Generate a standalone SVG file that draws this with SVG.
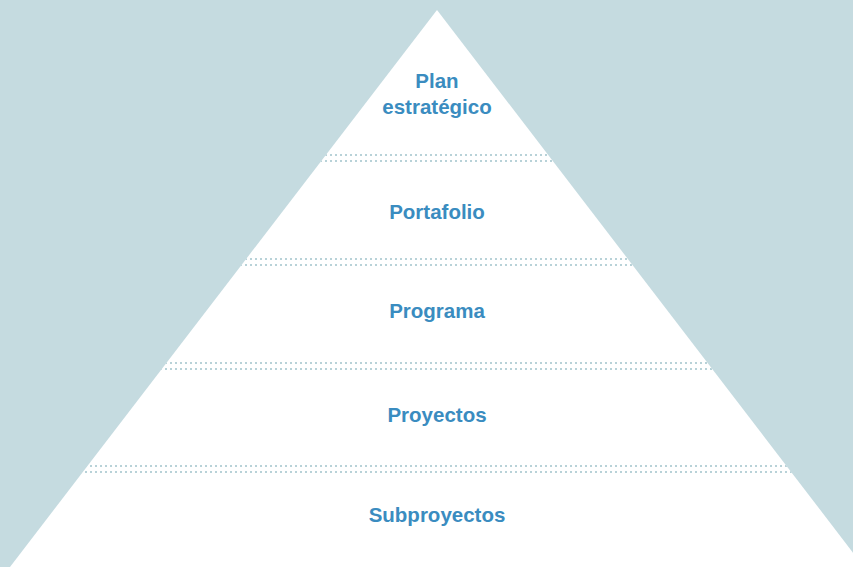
<svg xmlns="http://www.w3.org/2000/svg" width="853" height="567" viewBox="0 0 853 567">
<style>
.lbl{font-family:"Liberation Sans",Arial,sans-serif;font-weight:bold;font-size:20.5px;fill:#3a8cc0;text-anchor:middle}
.dot{stroke:#b8d2d8;stroke-width:2;stroke-dasharray:2 3;fill:none}
</style>
<defs>
<clipPath id="tri"><polygon points="437,10 10,567 864,567"/></clipPath>
</defs>
<rect width="853" height="567" fill="#c5dbe0"/>
<polygon points="437,10 10,567 864,567" fill="#ffffff"/>
<g id="connectors" clip-path="url(#tri)">
<path class="dot" d="M0,155H853M0,161H853"/>
<path class="dot" d="M0,259H853M0,265H853"/>
<path class="dot" d="M0,363H853M0,369H853"/>
<path class="dot" d="M0,466H853M0,472H853"/>
</g>
<g id="plan"><text class="lbl" x="437" y="88">Plan</text><text class="lbl" x="437" y="114">estratégico</text></g>
<g id="portafolio"><text class="lbl" x="437" y="219">Portafolio</text></g>
<g id="programa"><text class="lbl" x="437" y="318">Programa</text></g>
<g id="proyectos"><text class="lbl" x="437" y="422">Proyectos</text></g>
<g id="subproyectos"><text class="lbl" x="437" y="522">Subproyectos</text></g>
</svg>
